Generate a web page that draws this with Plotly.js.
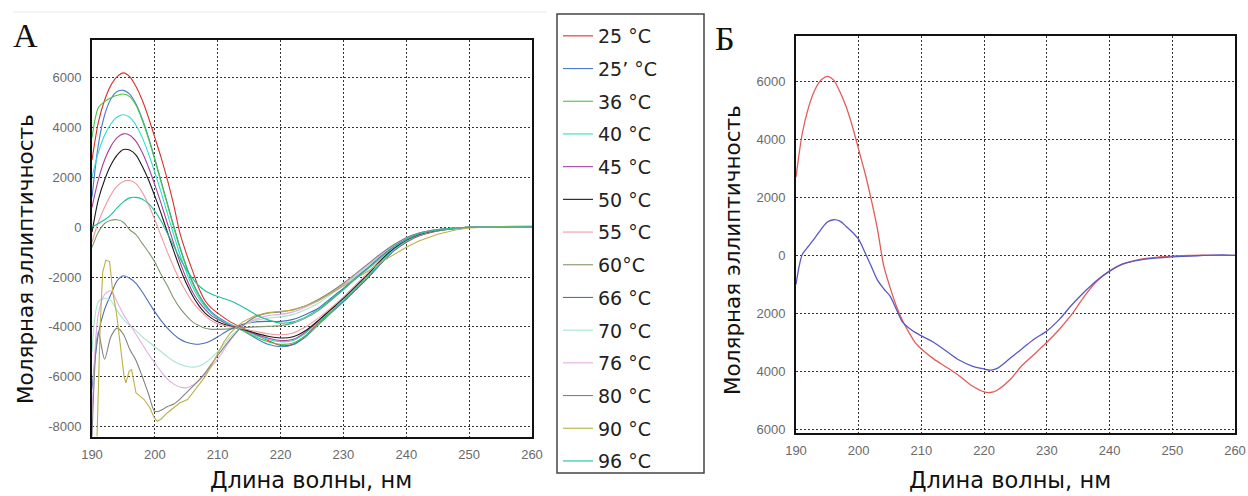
<!DOCTYPE html>
<html><head><meta charset="utf-8">
<script src="https://cdn.plot.ly/plotly-3.0.1.min.js"></script>
<style>html,body{margin:0;padding:0;background:#fff}#chart{width:1248px;height:496px}</style>
</head><body><div id="chart"></div>
<script>
// ---- Panel A data (molar ellipticity vs wavelength, nm) ----
const xA = [190,191,192,193,194,195,196,197,198,199,200,201,202,203,204,205,206,207,208,209,210,212,214,216,218,220,222,224,226,228,230,232,234,236,238,240,242,245,248,250,255,260];
const t25  = [2700,4200,5100,5700,6050,6200,6050,5650,5100,4400,3600,2800,1900,900,-250,-1050,-1750,-2450,-2950,-3250,-3450,-3800,-4050,-4300,-4550,-4750,-4700,-4350,-3850,-3400,-2950,-2500,-2000,-1450,-950,-600,-350,-150,-50,-10,10,20];
const t25p = [1200,3300,4500,5150,5450,5500,5350,4950,4350,3600,2750,1850,950,50,-800,-1550,-2200,-2700,-3100,-3400,-3600,-3900,-4150,-4450,-4700,-4800,-4720,-4400,-3920,-3450,-3000,-2500,-2000,-1450,-950,-580,-330,-140,-50,-10,10,20];
const t36  = [3600,4800,5050,5200,5300,5350,5250,4900,4300,3550,2700,1800,900,0,-850,-1600,-2250,-2750,-3150,-3450,-3650,-3950,-4150,-4400,-4600,-4700,-4650,-4350,-3900,-3420,-2950,-2450,-1950,-1420,-920,-560,-320,-130,-40,0,10,20];
const t40  = [2000,3000,3700,4150,4430,4520,4420,4100,3600,2950,2200,1400,550,-300,-1100,-1800,-2400,-2850,-3200,-3450,-3650,-3900,-4100,-4350,-4500,-4600,-4550,-4250,-3800,-3350,-2900,-2400,-1900,-1380,-900,-550,-310,-120,-40,0,10,20];
const t45  = [800,1900,2700,3250,3600,3750,3700,3450,3000,2400,1700,950,150,-650,-1400,-2050,-2600,-3000,-3300,-3550,-3700,-3950,-4100,-4300,-4450,-4550,-4500,-4200,-3750,-3300,-2850,-2350,-1850,-1320,-860,-520,-300,-120,-40,0,10,20];
const t50  = [-200,1100,1900,2500,2900,3120,3100,2900,2450,1900,1250,550,-200,-950,-1650,-2250,-2750,-3150,-3450,-3650,-3800,-3980,-4100,-4250,-4380,-4450,-4400,-4150,-3750,-3300,-2850,-2350,-1850,-1300,-850,-500,-280,-110,-30,0,10,20];
const t55  = [-600,200,800,1300,1650,1840,1880,1750,1400,900,300,-350,-1000,-1600,-2150,-2600,-3000,-3300,-3550,-3750,-3880,-4000,-4080,-4180,-4280,-4320,-4250,-4000,-3650,-3250,-2800,-2300,-1800,-1250,-800,-480,-260,-100,-30,0,10,20];
const t60  = [-800,-200,150,280,300,200,-100,-300,-650,-1000,-1400,-1900,-2350,-2850,-3250,-3550,-3800,-3950,-4060,-4100,-4100,-4080,-4030,-4000,-3980,-3950,-3850,-3650,-3350,-2950,-2500,-2050,-1600,-1150,-750,-450,-250,-100,-30,0,10,20];
const t66  = [-6500,-4300,-3300,-2700,-2150,-1950,-2050,-2250,-2600,-3000,-3400,-3750,-4050,-4300,-4500,-4620,-4680,-4700,-4650,-4550,-4400,-4100,-3900,-3800,-3780,-3780,-3700,-3500,-3250,-2850,-2450,-2000,-1600,-1150,-750,-450,-250,-100,-30,0,10,20];
const t70  = [-5000,-3000,-2850,-2950,-3350,-3700,-3950,-4150,-4400,-4600,-4800,-5000,-5200,-5380,-5500,-5580,-5620,-5580,-5450,-5250,-5000,-4400,-3950,-3750,-3650,-3600,-3500,-3300,-3050,-2700,-2350,-1950,-1550,-1100,-720,-430,-240,-90,-30,0,10,20];
const t76  = [-7500,-3500,-2700,-2550,-3000,-3500,-3900,-4300,-4700,-5100,-5450,-5800,-6100,-6300,-6420,-6450,-6350,-6150,-5900,-5600,-5300,-4550,-3950,-3700,-3550,-3500,-3400,-3200,-2950,-2650,-2300,-1900,-1500,-1100,-720,-430,-240,-90,-30,0,10,20];
const t80  = [-8400,-4200,-5300,-4400,-4050,-4300,-4900,-5350,-6000,-6700,-7400,-7350,-7200,-7100,-6900,-6650,-6400,-6150,-5850,-5500,-5150,-4500,-3950,-3600,-3450,-3400,-3300,-3150,-2900,-2600,-2250,-1850,-1450,-1050,-700,-420,-230,-90,-30,0,10,20];
const x90  = [190.8,191.3,191.7,192.2,192.8,193.3,193.9,194.5,195.1,195.4,195.9,196.3,197.0,198.3,199.2,199.9,200.4,201,202,203,204,205.2,206,207,208,209,210,211,212,213,214,216,218,220,222,224,226,228,230,232,234,236,238,240,242,245,248,250,255,260];
const t90  = [-8400,-4000,-1800,-1320,-1380,-2600,-3450,-4650,-5990,-6250,-5790,-5720,-6650,-6920,-7250,-7650,-7790,-7700,-7450,-7250,-7050,-6920,-6650,-6300,-6000,-5550,-5100,-4600,-4250,-4000,-3800,-3550,-3430,-3390,-3330,-3150,-2950,-2650,-2350,-2050,-1750,-1400,-1100,-800,-550,-280,-100,-30,30,50];
const t96  = [0,150,300,500,780,1020,1180,1200,1130,950,650,250,-250,-750,-1250,-1700,-2050,-2350,-2550,-2680,-2780,-2950,-3200,-3500,-3720,-3850,-3800,-3600,-3300,-2900,-2500,-2050,-1650,-1200,-800,-480,-260,-100,-30,0,10,20];

const namesA  = ['25 °C','25’ °C','36 °C','40 °C','45 °C','50 °C','55 °C','60°C','66 °C','70 °C','76 °C','80 °C','90 °C','96 °C'];
const colorsA = ['#d9302c','#4a7bd0','#44c844','#33dccc','#a8409c','#1a1a1a','#f29a9e','#7f9a6e','#4a6fb5','#a6e6cc','#e2aee2','#808080','#bcb046','#1fbf9c'];
const seriesA = [t25,t25p,t36,t40,t45,t50,t55,t60,t66,t70,t76,t80,t90,t96];
const xsA     = [xA,xA,xA,xA,xA,xA,xA,xA,xA,xA,xA,xA,x90,xA];

// ---- Panel B data ----
const xB = [190,191,192,193,194,195,196,197,198,199,200,201,202,203,204,205,206,207,208,209,210,212,214,216,218,220,221,222,224,226,228,230,232,234,236,238,240,242,245,248,250,253,255,258,260];
const bRed  = [2700,4200,5100,5700,6040,6170,6040,5640,5120,4440,3640,2840,1920,890,-370,-1100,-1740,-2250,-2650,-3000,-3220,-3570,-3850,-4140,-4480,-4700,-4720,-4650,-4310,-3800,-3400,-2990,-2540,-2020,-1400,-880,-540,-310,-130,-50,-20,0,10,0,0];
const bBlue = [-1000,30,320,600,900,1150,1230,1180,1000,800,550,100,-370,-850,-1150,-1400,-1850,-2300,-2500,-2650,-2770,-3000,-3300,-3600,-3800,-3910,-3950,-3900,-3570,-3220,-2880,-2600,-2200,-1700,-1250,-850,-540,-300,-150,-80,-50,-20,0,20,0];

// ---- ticks / labels ----
const xTicks = [190,200,210,220,230,240,250,260];
const yTicksA = [-8000,-6000,-4000,-2000,0,2000,4000,6000];
const yTextA  = ['-8000','-6000','-4000','-2000','0','2000','4000','6000'];
const yTicksB = [-6000,-4000,-2000,0,2000,4000,6000];
const yTextB  = ['6000','4000','2000','0','2000','4000','6000'];
const xTitle = 'Длина волны, нм';
const yTitle = 'Молярная эллиптичность';

const W = 1248, H = 496;
const px = v => v / W, py = v => 1 - v / H;

const traces = [];
seriesA.forEach((ys, i) => {
  traces.push({
    type: 'scatter', mode: 'lines', x: xsA[i], y: ys, name: namesA[i],
    legendgroup: 'g' + i, xaxis: 'x', yaxis: 'y',
    line: {color: colorsA[i], width: 1.1, shape: i === 12 ? 'linear' : 'spline', smoothing: 0.8}
  });
});
traces.push({type:'scatter', mode:'lines', x:xB, y:bRed, showlegend:false, xaxis:'x2', yaxis:'y2',
  line:{color:'#e45c58', width:1.3, shape:'spline', smoothing:0.8}});
traces.push({type:'scatter', mode:'lines', x:xB, y:bBlue, showlegend:false, xaxis:'x2', yaxis:'y2',
  line:{color:'#5a58c4', width:1.3, shape:'spline', smoothing:0.8}});

const tickFont = {family:'Liberation Sans, Arial, sans-serif', size:13, color:'#6a6a6a'};
const axCommon = {
  showline:true, mirror:true, linecolor:'#111', linewidth:2,
  showgrid:true, gridcolor:'#333', gridwidth:1, griddash:'2px,2px',
  zeroline:false, ticks:'', tickfont:tickFont, fixedrange:true
};

const layout = {
  width: W, height: H,
  margin: {l:0, r:0, t:0, b:0, pad:0},
  paper_bgcolor:'#fff', plot_bgcolor:'#fff',
  showlegend: true,
  legend: {x: px(558), y: py(17), xanchor:'left', yanchor:'top', bgcolor:'rgba(0,0,0,0)',
    borderwidth:0, tracegroupgap:5, traceorder:'grouped',
    font:{family:'DejaVu Sans, sans-serif', size:19, color:'#222'}},
  xaxis: Object.assign({}, axCommon, {domain:[px(92), px(532)], range:[190,260], tickvals:xTicks, anchor:'y', ticklabelstandoff:4}),
  yaxis: Object.assign({}, axCommon, {domain:[py(437), py(40)], range:[-8425,7522], tickvals:yTicksA, ticktext:yTextA, anchor:'x', ticklabelstandoff:6}),
  xaxis2: Object.assign({}, axCommon, {domain:[px(796), px(1235)], range:[190,260], tickvals:xTicks, anchor:'y2', ticklabelstandoff:4}),
  yaxis2: Object.assign({}, axCommon, {domain:[py(433), py(36)], range:[-6115,7558], tickvals:yTicksB, ticktext:yTextB, anchor:'x2', ticklabelstandoff:6}),
  shapes: [
    {type:'rect', xref:'paper', yref:'paper', x0:px(557), x1:px(704), y0:py(473), y1:py(14), line:{color:'#444', width:1.5}},
    {type:'line', xref:'paper', yref:'paper', x0:px(14), x1:px(547), y0:py(12), y1:py(12), line:{color:'#e8e8e8', width:1}}
  ],
  annotations: [
    {text:'А', xref:'paper', yref:'paper', x:px(25), y:py(35), showarrow:false, xanchor:'center', yanchor:'middle', font:{family:'Liberation Serif, serif', size:34, color:'#111'}},
    {text:'Б', xref:'paper', yref:'paper', x:px(725), y:py(38), showarrow:false, xanchor:'center', yanchor:'middle', font:{family:'Liberation Serif, serif', size:34, color:'#111'}},
    {text:xTitle, xref:'paper', yref:'paper', x:px(311), y:py(480), showarrow:false, xanchor:'center', yanchor:'middle', font:{family:'DejaVu Sans, sans-serif', size:22.5, color:'#111'}},
    {text:xTitle, xref:'paper', yref:'paper', x:px(1010), y:py(480), showarrow:false, xanchor:'center', yanchor:'middle', font:{family:'DejaVu Sans, sans-serif', size:22.5, color:'#111'}},
    {text:yTitle, xref:'paper', yref:'paper', x:px(25), y:py(259), showarrow:false, textangle:-90, xanchor:'center', yanchor:'middle', font:{family:'DejaVu Sans, sans-serif', size:21.5, color:'#111'}},
    {text:yTitle, xref:'paper', yref:'paper', x:px(732), y:py(250), showarrow:false, textangle:-90, xanchor:'center', yanchor:'middle', font:{family:'DejaVu Sans, sans-serif', size:21.5, color:'#111'}}
  ]
};

Plotly.newPlot('chart', traces, layout, {staticPlot:true, displayModeBar:false});
</script>
</body></html>
